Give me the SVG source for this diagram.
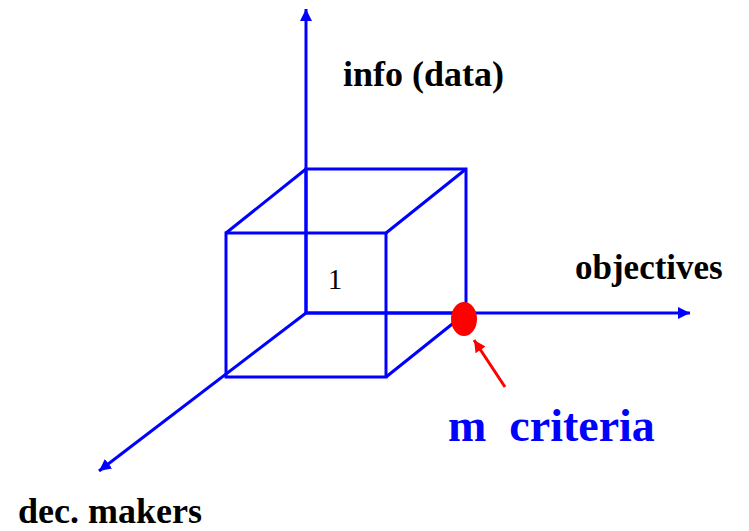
<svg xmlns="http://www.w3.org/2000/svg" width="749" height="531" viewBox="0 0 749 531">
<style>
.ax{stroke:#0000FF;stroke-width:3;fill:none}
.cube{stroke:#0000FF;stroke-width:3;fill:none;stroke-linejoin:miter}
.lbl{font-family:"Liberation Serif","Times New Roman",serif;font-weight:bold;font-size:36px;fill:#000}
</style>
<defs>
<marker id="ab" markerUnits="userSpaceOnUse" markerWidth="14" markerHeight="12" refX="12" refY="6" orient="auto">
<path d="M0,0 L12,6 L0,12 Z" fill="#0000FF"/>
</marker>
<marker id="ar" markerUnits="userSpaceOnUse" markerWidth="14" markerHeight="12" refX="12" refY="6" orient="auto">
<path d="M0,0 L12,6 L0,12 Z" fill="#FF0000"/>
</marker>
</defs>
<g id="connectors">
<line class="ax" x1="306" y1="313" x2="306" y2="9" marker-end="url(#ab)"/>
<line class="ax" x1="306" y1="313" x2="690" y2="313" marker-end="url(#ab)"/>
<line class="ax" x1="306" y1="313" x2="99" y2="471" marker-end="url(#ab)"/>
<line x1="505" y1="387" x2="474" y2="340" stroke="#FF0000" stroke-width="3" marker-end="url(#ar)"/>
</g>
<g id="cube">
<polygon class="cube" points="306,169 466,169 466,313 306,313"/>
<polygon class="cube" points="226,233 386,233 386,377 226,377"/>
<line class="cube" x1="226" y1="233" x2="306" y2="169"/>
<line class="cube" x1="386" y1="233" x2="466" y2="169"/>
<line class="cube" x1="386" y1="377" x2="466" y2="313"/>
<text x="335" y="289" text-anchor="middle" font-family="Liberation Serif,'Times New Roman',serif" font-size="29" fill="#000">1</text>
</g>
<g id="point">
<ellipse cx="464" cy="319" rx="13" ry="17" fill="#FF0000"/>
</g>
<g id="info"><text class="lbl" x="343" y="86">info (data)</text></g>
<g id="objectives"><text class="lbl" x="575" y="279" style="font-size:35px">objectives</text></g>
<g id="decmakers"><text class="lbl" x="18" y="523">dec. makers</text></g>
<g id="criteria"><text class="lbl" x="448" y="441" style="fill:#0000FF;font-size:46px" xml:space="preserve">m  criteria</text></g>
</svg>
